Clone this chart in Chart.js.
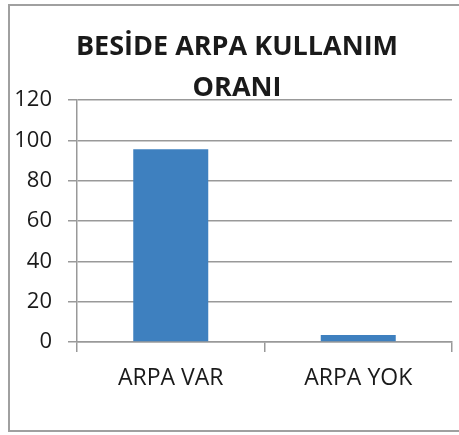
<!DOCTYPE html>
<html>
<head>
<meta charset="utf-8">
<style>
  html, body { margin: 0; padding: 0; background: #fff; }
</style>
<script src="https://cdn.jsdelivr.net/npm/chart.js@4.4.1/dist/chart.umd.min.js"></script>
</head>
<body>
<canvas id="chart" width="459" height="435"></canvas>
<script>
const titleLines = ['BESİDE ARPA KULLANIM', 'ORANI'];
const categories = ['ARPA VAR', 'ARPA YOK'];
const values = [95.5, 3.5];
const yMin = 0;
const yMax = 120;
const yStep = 20;

const FONT = "'Open Sans', sans-serif";
const GRID = '#999999';

// outer frame around the whole chart
const framePlugin = {
  id: 'frame',
  beforeDraw(chart) {
    const ctx = chart.ctx;
    ctx.save();
    ctx.fillStyle = '#fff';
    ctx.fillRect(0, 0, chart.width, chart.height);
    ctx.strokeStyle = '#a0a0a0';
    ctx.lineWidth = 2;
    ctx.strokeRect(9, 5, 470, 426);
    ctx.restore();
  }
};

new Chart(document.getElementById('chart').getContext('2d'), {
  type: 'bar',
  data: {
    labels: categories,
    datasets: [{
      data: values,
      backgroundColor: '#3e80bf',
      borderWidth: 0,
      barPercentage: 0.4,
      categoryPercentage: 1
    }]
  },
  options: {
    responsive: false,
    animation: false,
    // frame is wider than the page, so the title centre sits right of the canvas centre
    layout: { padding: { left: 8, right: -7, top: 0, bottom: 0 } },
    plugins: {
      legend: { display: false },
      tooltip: { enabled: false },
      title: {
        display: true,
        text: titleLines,
        color: '#1a1a1a',
        font: { family: FONT, size: 27, weight: 'bold', lineHeight: 1.55 },
        padding: { top: 26, bottom: -9.8 }
      }
    },
    scales: {
      x: {
        afterFit(scale) { scale.height = 93; },
        grid: { drawOnChartArea: false, drawTicks: true, tickLength: 10, color: GRID, lineWidth: 1.5 },
        border: { color: GRID, width: 1.5 },
        ticks: { color: '#1a1a1a', padding: 13, font: { family: FONT, size: 23 } }
      },
      y: {
        min: yMin,
        max: yMax,
        afterFit(scale) { scale.width = 69; },
        grid: { color: GRID, lineWidth: 1.5, tickLength: 9 },
        border: { color: GRID, width: 1.5 },
        ticks: { stepSize: yStep, color: '#1a1a1a', padding: 16, font: { family: FONT, size: 22 } }
      },
      // empty spacer on the right, keeps the plot clear of the frame edge
      spacer: {
        type: 'linear',
        position: 'right',
        afterFit(scale) { scale.width = 14; },
        grid: { display: false },
        border: { display: false },
        ticks: { display: false }
      }
    }
  },
  plugins: [framePlugin]
});
</script>
</body>
</html>
